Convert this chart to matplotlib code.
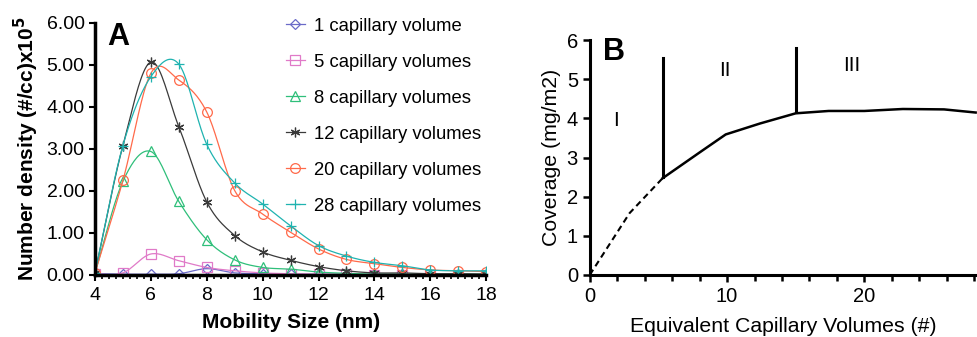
import numpy as np
import matplotlib.pyplot as plt
from matplotlib.ticker import MultipleLocator, FormatStrFormatter

plt.rcParams['font.family'] = ['Liberation Sans', 'DejaVu Sans']

# Panel A: particle size distributions
sizes = [4, 5, 6, 7, 8, 9, 10, 11, 12, 13, 14, 15, 16, 17, 18]
cv1 = [0.03, 0.02, 0.02, 0.03, 0.15, 0.05, 0.03, 0.02, 0.02, 0.01, 0.01, 0.01, 0.01, 0.01, 0.01]
cv5 = [0.02, 0.05, 0.50, 0.34, 0.18, 0.10, 0.05, 0.03, 0.02, 0.02, 0.01, 0.01, 0.01, 0.01, 0.01]
cv8 = [0.05, 2.23, 2.94, 1.75, 0.84, 0.36, 0.18, 0.14, 0.07, 0.04, 0.02, 0.02, 0.02, 0.02, 0.02]
cv12 = [0.05, 3.08, 5.07, 3.53, 1.74, 0.94, 0.55, 0.35, 0.20, 0.10, 0.05, 0.05, 0.03, 0.03, 0.02]
cv20 = [0.05, 2.25, 4.80, 4.64, 3.88, 2.01, 1.45, 1.02, 0.62, 0.37, 0.27, 0.18, 0.12, 0.10, 0.08]
cv28 = [0.05, 3.08, 4.72, 5.02, 3.11, 2.19, 1.69, 1.17, 0.70, 0.45, 0.30, 0.22, 0.12, 0.10, 0.10]

series_labels = ['1 capillary volume', '5 capillary volumes', '8 capillary volumes',
                 '12 capillary volumes', '20 capillary volumes', '28 capillary volumes']
series_colors = ['#6a6ac8', '#e07ac8', '#2fbf7a', '#3a3a3a', '#ff6a4a', '#1fb3b0']
series_markers = ['D', 's', '^', (6, 2, 0), 'o', '+']

# Panel B: coverage vs capillary volumes
vol_dashed = [0, 2.9, 5.3]
cov_dashed = [0, 1.58, 2.47]
vol_solid = [5.3, 8.0, 9.9, 12.4, 15.0, 17.4, 20.0, 22.8, 25.8, 28.1]
cov_solid = [2.47, 3.13, 3.59, 3.87, 4.13, 4.19, 4.19, 4.24, 4.23, 4.15]
region_bounds = [(5.3, 2.5, 5.55), (15.0, 4.17, 5.8)]
region_labels = ['I', 'II', 'III']
region_pos = [(1.9, 3.94), (9.85, 5.23), (19.05, 5.36)]


def smooth(x, y, n=20):
    # Catmull-Rom curve through the points, like Excel's smoothed line
    x = np.asarray(x, float)
    y = np.asarray(y, float)
    px = np.concatenate([[2 * x[0] - x[1]], x, [2 * x[-1] - x[-2]]])
    py = np.concatenate([[2 * y[0] - y[1]], y, [2 * y[-1] - y[-2]]])
    xs, ys = [], []
    t = np.linspace(0, 1, n, endpoint=False)
    for i in range(1, len(px) - 2):
        for p, out in ((px, xs), (py, ys)):
            p0, p1, p2, p3 = p[i - 1], p[i], p[i + 1], p[i + 2]
            out.extend(0.5 * (2 * p1 + (-p0 + p2) * t + (2 * p0 - 5 * p1 + 4 * p2 - p3) * t ** 2
                              + (-p0 + 3 * p1 - 3 * p2 + p3) * t ** 3))
    xs.append(x[-1])
    ys.append(y[-1])
    return np.array(xs), np.array(ys)


fig = plt.figure(figsize=(9.78, 3.37), dpi=100)

axA = fig.add_axes([0.0971, 0.184, 0.4, 0.748])
for vals, lab, col, mk in zip([cv1, cv5, cv8, cv12, cv20, cv28], series_labels, series_colors, series_markers):
    sx, sy = smooth(sizes, vals)
    axA.plot(sx, sy, color=col, lw=0.9)
    axA.plot(sizes, vals, linestyle='none', marker=mk, ms=7 if mk != 'D' else 5,
             mfc='none', mec=col, mew=0.9)
    axA.plot([], [], color=col, lw=0.9, marker=mk, ms=7 if mk != 'D' else 5,
             mfc='none', mec=col, mew=0.9, label=lab)

axA.set_xlim(4, 18)
axA.set_ylim(0, 6)
axA.xaxis.set_major_locator(MultipleLocator(2))
axA.xaxis.set_minor_locator(MultipleLocator(0.25))
axA.yaxis.set_major_locator(MultipleLocator(1))
axA.yaxis.set_major_formatter(FormatStrFormatter('%.2f'))
axA.spines['top'].set_visible(False)
axA.spines['right'].set_visible(False)
axA.spines['left'].set_linewidth(2.5)
axA.spines['bottom'].set_linewidth(2.5)
axA.tick_params(axis='both', labelsize=14, width=1.5, length=4, direction='out')
axA.tick_params(axis='x', pad=5)
axA.tick_params(axis='x', which='minor', length=3, width=1.2, direction='out')
axA.set_xlabel('Mobility Size (nm)', fontsize=15, fontweight='bold', labelpad=6)
axA.set_ylabel(r'Number density (#/cc)x10$^\mathbf{5}$', fontsize=15, fontweight='bold', labelpad=4)
axA.text(4.45, 5.48, 'A', fontsize=22, fontweight='bold')
axA.legend(loc='upper left', bbox_to_anchor=(0.47, 1.05), frameon=False, fontsize=13.3,
           handlelength=1.0, handletextpad=0.5, labelspacing=1.03, borderaxespad=0)

axB = fig.add_axes([0.603, 0.184, 0.396, 0.697])
axB.plot(vol_dashed, cov_dashed, color='black', lw=1.5, ls=(0, (3, 2)))
axB.plot(vol_solid, cov_solid, color='black', lw=1.8)
for xb, y0, y1 in region_bounds:
    axB.plot([xb, xb], [y0, y1], color='black', lw=2.2)
for lab, (xl, yl) in zip(region_labels, region_pos):
    axB.text(xl, yl, lab, fontsize=15, ha='center', va='center')
axB.text(0.94, 5.49, 'B', fontsize=22, fontweight='bold')
axB.set_xlim(0, 28.2)
axB.set_ylim(0, 6)
axB.xaxis.set_major_locator(MultipleLocator(10))
axB.xaxis.set_minor_locator(MultipleLocator(2))
axB.yaxis.set_major_locator(MultipleLocator(1))
axB.spines['top'].set_visible(False)
axB.spines['right'].set_visible(False)
axB.spines['left'].set_linewidth(2.2)
axB.spines['bottom'].set_linewidth(2.2)
axB.tick_params(axis='both', labelsize=14.5, width=1.8, length=5, direction='out')
axB.tick_params(axis='x', which='minor', length=4, width=1.8, direction='out')
axB.set_xlabel('Equivalent Capillary Volumes (#)', fontsize=15.3, labelpad=8)
axB.set_ylabel('Coverage (mg/m2)', fontsize=15.3, labelpad=4)

fig.savefig('out.png', dpi=100)
